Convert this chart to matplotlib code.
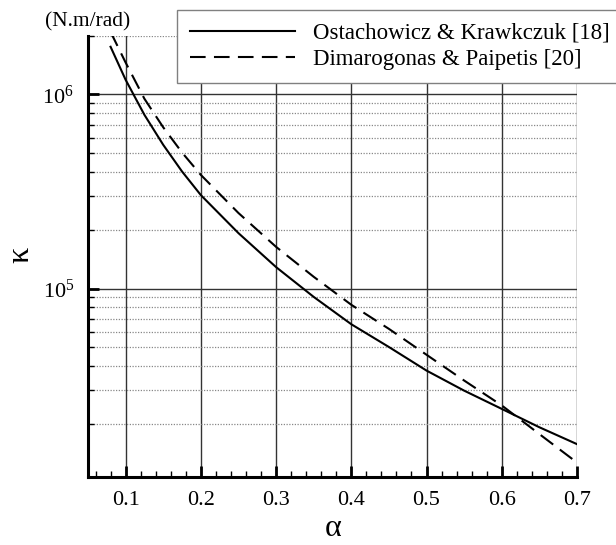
import numpy as np
import matplotlib
matplotlib.use("Agg")
import matplotlib.pyplot as plt
from matplotlib.ticker import LogLocator, MultipleLocator, NullFormatter

plt.rcParams["font.family"] = ["Liberation Serif", "DejaVu Serif"]
plt.rcParams["mathtext.fontset"] = "custom"
plt.rcParams["mathtext.rm"] = "Liberation Serif"
plt.rcParams["mathtext.it"] = "Liberation Serif:italic"

# crack depth ratio and stiffness
alpha = [0.08, 0.1, 0.125, 0.15, 0.175, 0.2, 0.25, 0.3, 0.35, 0.4,
         0.45, 0.5, 0.55, 0.6, 0.65, 0.7]
k_ostachowicz = [1.76e6, 1.19e6, 7.85e5, 5.5e5, 4.01e5, 3.03e5, 1.93e5, 1.29e5,
                 9.06e4, 6.55e4, 5.0e4, 3.78e4, 2.98e4, 2.40e4, 1.93e4, 1.58e4]
k_dimarogonas = [2.1e6, 1.46e6, 9.5e5, 6.77e5, 5.02e5, 3.85e5, 2.45e5, 1.64e5,
                 1.15e5, 8.25e4, 6.2e4, 4.56e4, 3.36e4, 2.50e4, 1.78e4, 1.27e4]
labels = ["Ostachowicz & Krawkczuk [18]", "Dimarogonas & Paipetis [20]"]

fig = plt.figure(figsize=(6.16, 5.45), dpi=100)
ax = fig.add_axes([88 / 616, 1 - 477 / 545, (577 - 88) / 616, (477 - 36) / 545])

ax.plot(alpha, k_ostachowicz, color="black", lw=1.5, label=labels[0])
ax.plot(alpha, k_dimarogonas, color="black", lw=1.5, dashes=(7.5, 4), label=labels[1])

ax.set_yscale("log")
ax.set_xlim(0.05, 0.7)
ax.set_ylim(1.07e4, 2e6)

ax.xaxis.set_major_locator(MultipleLocator(0.1))
ax.xaxis.set_minor_locator(MultipleLocator(0.02))
ax.yaxis.set_major_locator(LogLocator(base=10))
ax.yaxis.set_minor_locator(LogLocator(base=10, subs=np.arange(2, 10)))
ax.yaxis.set_minor_formatter(NullFormatter())

ax.grid(which="major", color="#333333", lw=1.0, ls="-")
ax.grid(which="minor", axis="y", color="#888888", lw=0.9, ls=(0, (1, 1.2)))
ax.set_axisbelow(True)

ax.tick_params(which="major", direction="in", length=8, width=2, labelsize=16)
ax.tick_params(which="minor", direction="in", length=4.5, width=1)
ax.tick_params(axis="x", which="major", pad=10)
ax.tick_params(axis="y", which="major", pad=10)

for side in ["top", "right"]:
    ax.spines[side].set_visible(False)
for side in ["left", "bottom"]:
    ax.spines[side].set_linewidth(2.2)

fig.text(21 / 616, 1 - 255 / 545, "κ", rotation=90, fontsize=23, ha="center", va="center")
fig.text(333 / 616, 1 - 528 / 545, "α", fontsize=23, ha="center", va="center")
fig.text(88 / 616, 1 - 22 / 545, "(N.m/rad)", fontsize=15.5, ha="center", va="center")

# legend frame runs past the right edge of the figure, as in the original
leg = fig.legend(loc="upper right", bbox_to_anchor=(622 / 616, 1 - 10 / 545),
                 borderaxespad=0, fontsize=16.5, handlelength=4.6, handletextpad=0.75,
                 borderpad=0.55, labelspacing=0.25, fancybox=False, framealpha=1)
leg.get_frame().set_edgecolor("#808080")
leg.get_frame().set_linewidth(1.0)

fig.savefig("out.png", dpi=100)
